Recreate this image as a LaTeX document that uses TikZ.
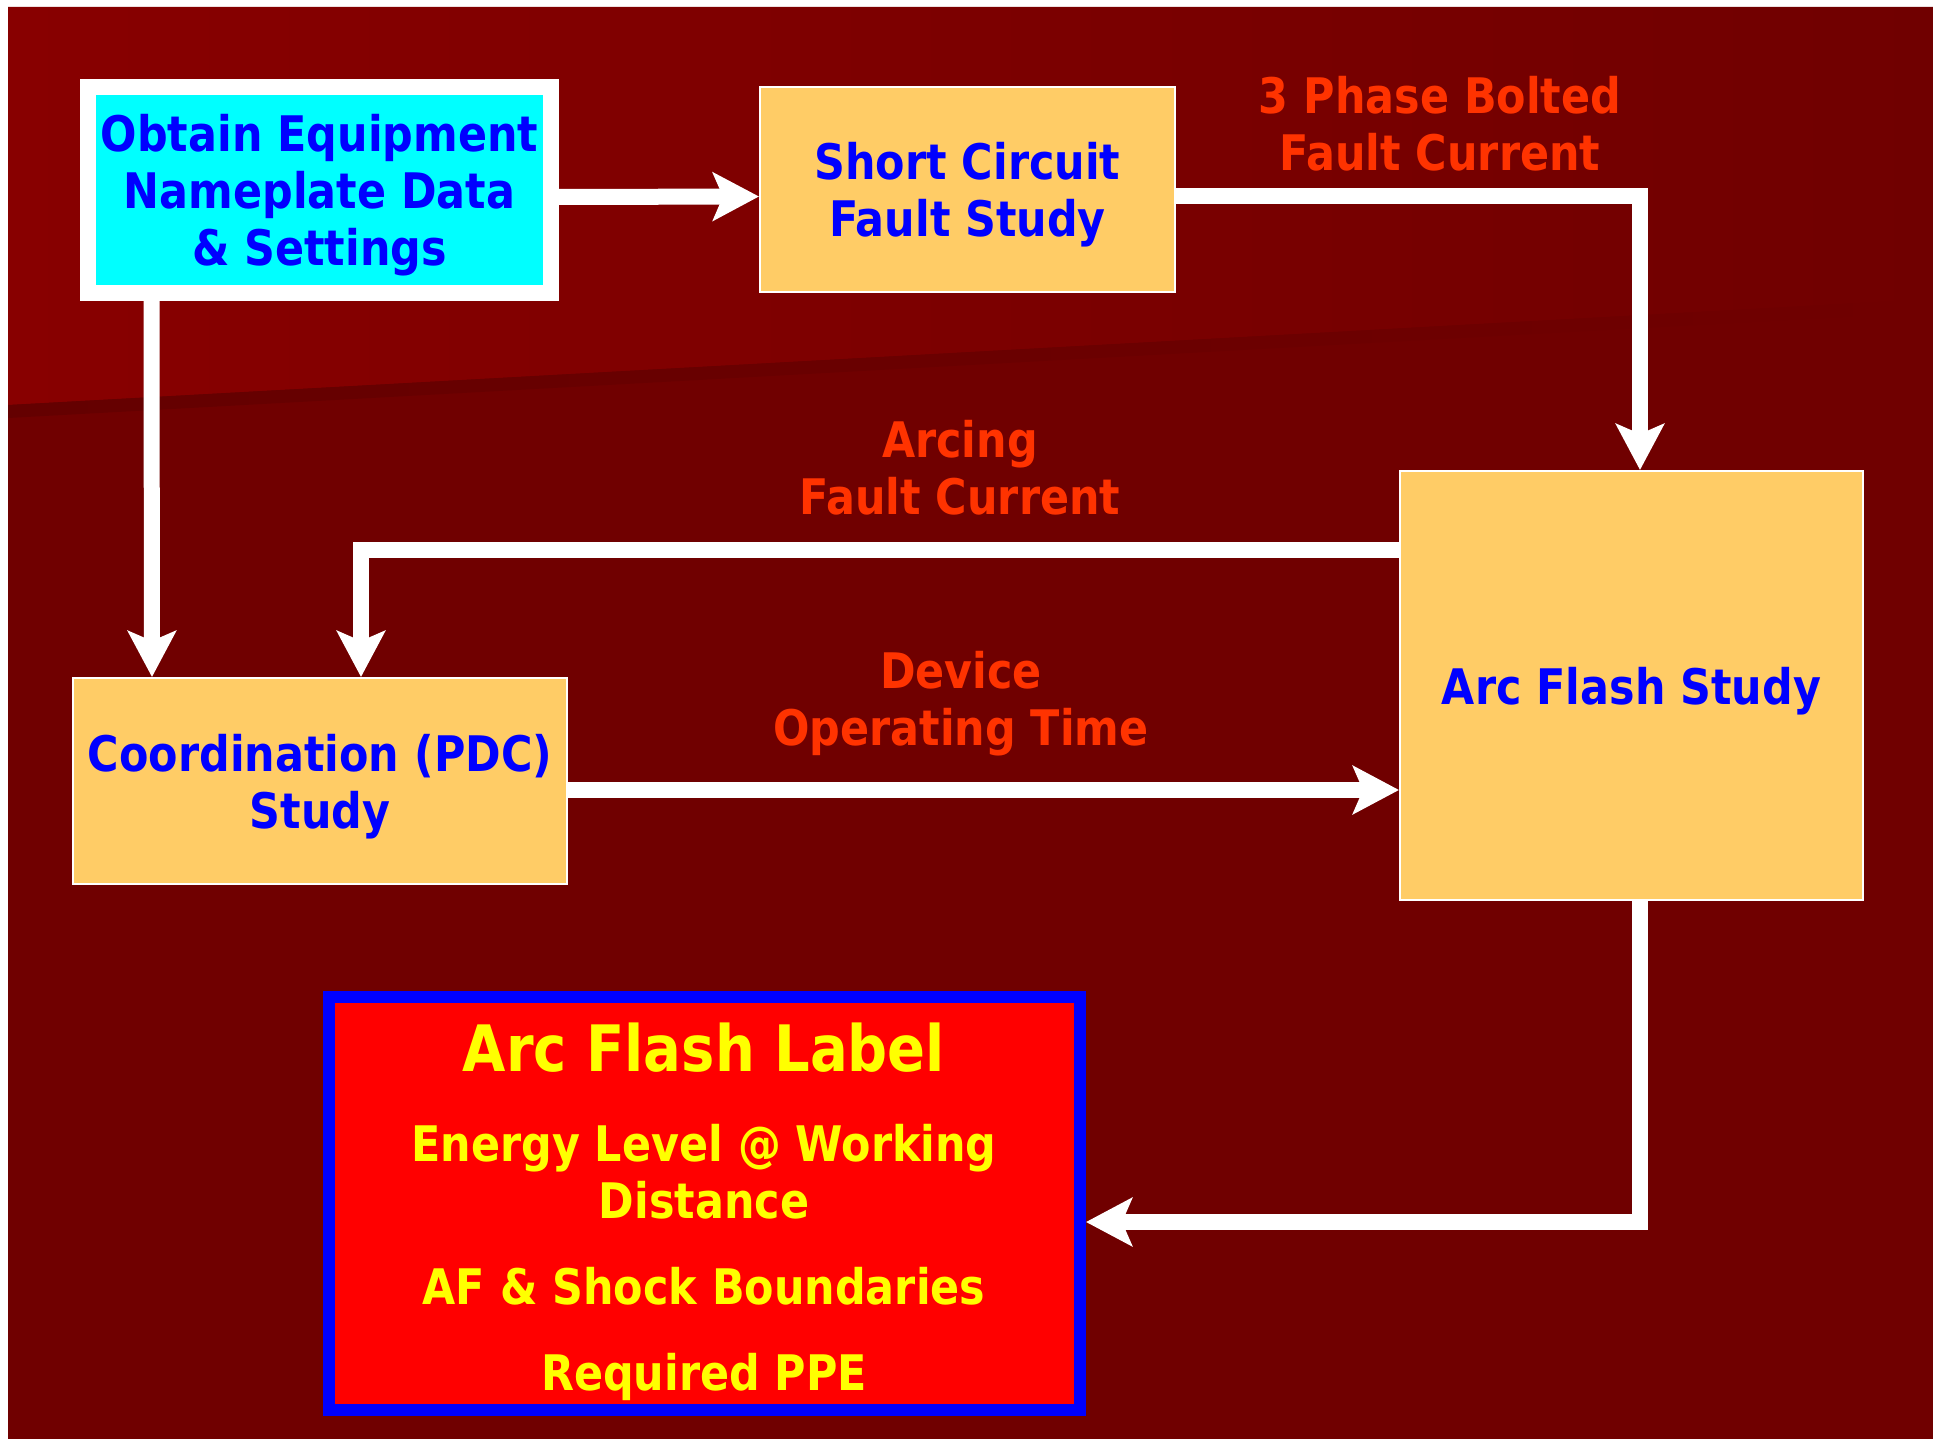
\documentclass[tikz,border=0pt]{standalone}
\usepackage{fontspec}
\usepackage{tikz}
\usetikzlibrary{arrows.meta,calc}
\newfontfamily\slidefont{DejaVu Sans}[FakeStretch=0.875]
\definecolor{bgtop}{HTML}{880000}
\definecolor{bgbot}{HTML}{700000}
\definecolor{bgshade}{HTML}{640000}
\definecolor{boxfill}{HTML}{FFCC66}
\definecolor{inputfill}{HTML}{00FFFF}
\definecolor{txtblue}{HTML}{0000FF}
\definecolor{flowred}{HTML}{FF3300}
\definecolor{labelred}{HTML}{FF0000}
\definecolor{labelyellow}{HTML}{FFFF00}
\tikzset{
  stbox/.style={draw=white, line width=2pt, fill=boxfill, text=txtblue, align=center, inner sep=0pt, text depth=0pt, font=\slidefont\bfseries\fontsize{49}{57}\selectfont},
  inbox/.style={stbox, fill=inputfill, line width=16pt},
  lblbox/.style={draw=txtblue, line width=12pt, fill=labelred, inner sep=0pt},
  lbltxt/.style={text=labelyellow, inner sep=0pt, anchor=base, font=\slidefont\bfseries\fontsize{49}{57}\selectfont},
  flowtxt/.style={text=flowred, align=center, inner sep=0pt, text depth=0pt, font=\slidefont\bfseries\fontsize{49}{57}\selectfont},
  ar/.style={-{Stealth[length=46pt, width=48pt, inset=10pt]}, draw=white, line width=16pt},
}
\begin{document}
\begin{tikzpicture}[x=1pt, y=-1pt]
    \useasboundingbox (0,0) rectangle (1933,1439);
    % slide background
    \fill[white] (0,0) rectangle (1933,1439);
    \fill[bgbot] (8,7) rectangle (1933,1439);
    \shade[left color=bgtop, right color=bgbot] (8,7) -- (1933,7) -- (1933,299) -- (8,405) -- cycle;
    \shade[left color=bgshade, right color=bgbot] (8,405) -- (1933,299) -- (1933,312) -- (8,418) -- cycle;

    \node[inbox, minimum width=463pt, minimum height=206pt] (obt) at (319.5,190) {Obtain Equipment\\Nameplate Data\\\& Settings};
    \node[stbox, minimum width=415pt, minimum height=205pt] (sc) at (967.5,189.5) {Short Circuit\\Fault Study};
    \node[stbox, minimum width=463pt, minimum height=429pt] (af) at (1631.5,685.5) {Arc Flash Study};
    \node[stbox, minimum width=494pt, minimum height=206pt] (cd) at (320,781) {Coordination (PDC)\\Study};

    \node[lblbox, minimum width=751pt, minimum height=413pt] (afl) at (704.5,1203.5) {};
    \node[lbltxt, font=\slidefont\bfseries\fontsize{64}{70}\selectfont] (afl1) at (704,1071) {Arc Flash Label};
    \node[lbltxt] (afl2) at (704,1161) {Energy Level @ Working};
    \node[lbltxt] (afl3) at (704,1218) {Distance};
    \node[lbltxt] (afl4) at (704,1304) {AF \& Shock Boundaries};
    \node[lbltxt] (afl5) at (704,1390) {Required PPE};

    \node[flowtxt] (bolt) at (1440,123) {3 Phase Bolted\\Fault Current};
    \node[flowtxt] (arcing) at (960,467.5) {Arcing\\Fault Current};
    \node[flowtxt] (optime) at (961,698) {Device\\Operating Time};

    \coordinate (dv) at ([yshift=-9pt]cd.east);
    \draw[ar] ([yshift=-7pt]obt.east) -- ([yshift=-7pt]sc.west);
    \draw[ar] ([yshift=-7pt]sc.east) -| ([xshift=8.5pt]af.north);
    \draw[ar] ([xshift=-168pt]obt.south) -- ([xshift=-168pt]cd.north);
    \draw[ar] ([yshift=135.5pt]af.west) -| ([xshift=41pt]cd.north);
    \draw[ar] (dv) -- (dv -| af.west);
    \draw[ar] ([xshift=8.5pt]af.south) |- ([yshift=-18.5pt]afl.east);
\end{tikzpicture}
\end{document}
